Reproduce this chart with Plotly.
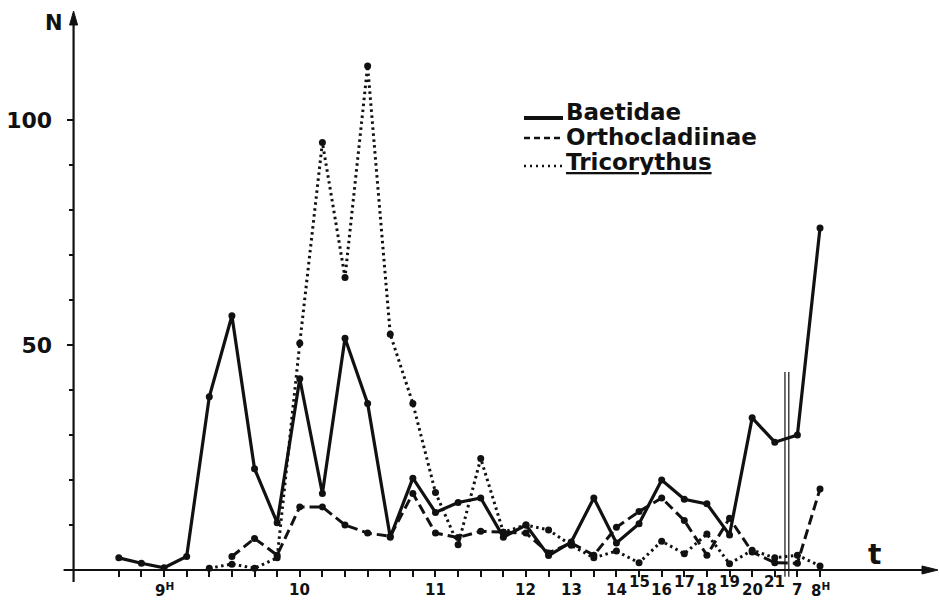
import plotly.graph_objects as go

# ---------------- data ----------------
# x positions are sampling-slot indices (9H = slot 0); time labels mapped below
baet_x = list(range(-2, 30))
baet_y = [2.7, 1.5, 0.5, 3, 38.5, 56.5, 22.5, 10.5, 42.5, 17, 51.5, 37, 7.3, 20.4, 12.8, 15,
          16, 7.3, 10, 3.2, 6.2, 16, 6, 10.3, 20, 15.7, 14.7, 7.8, 33.8, 28.4, 30, 76]

orth_x = list(range(3, 30))
orth_y = [3, 7, 3.3, 14, 14, 10, 8.2, 7.5, 17, 8.2, 7.2, 8.6, 8.4, 8.2, 3.8, 6, 3.3,
          9.5, 13, 16, 11, 3.3, 11.5, 4, 1.6, 1.5, 18]

tric_x = list(range(2, 30))
tric_y = [0.4, 1.3, 0.4, 2.7, 50.4, 95, 65, 112, 52.4, 37, 17.2, 5.6, 24.8, 8.4, 10, 8.9,
          5.5, 2.7, 4.2, 1.6, 6.4, 3.6, 8, 1.4, 4.4, 2.7, 3.3, 0.9]

series_names = ["Baetidae", "Orthocladiinae", "<u>Tricorythus</u>"]

# time labels on the x axis
tick_slots = list(range(-2, 30))
label_slots = [0, 6, 12, 16, 18, 20, 21, 22, 23, 24, 25, 26, 27, 28, 29]
label_texts = ["9<sup>H</sup>", "10", "11", "12", "13", "14", "15", "16", "17", "18",
               "19", "20", "21", "7", "8<sup>H</sup>"]
label_raised = [False, False, False, False, False, False, True, False, True, False,
                True, False, True, False, False]
night_break = 27.45   # overnight interruption between 21h and 7h
break_top = 44

y_tickvals = [50, 100]
y_ticktext = ["50", "100"]
y_minor_vals = [10, 20, 30, 40, 60, 70, 80, 90]

# ---------------- layout geometry ----------------
W, H = 939, 602
ML, MR, MT, MB = 60, 0, 20, 23
XMIN, XMAX = -4.6, 34.26
YMIN, YMAX = -2, 122.2
X_AXIS_AT = -4  # position of the y axis on x

PW = W - ML - MR
PH = H - MT - MB

def px(p):
    return (p - ML) / PW

def py(q):
    return (H - MB - q) / PH

def xd(v):  # data x -> paper
    return (v - XMIN) / (XMAX - XMIN)

def yd(v):  # data y -> paper
    return (v - YMIN) / (YMAX - YMIN)

FONT = "DejaVu Sans"
BLACK = "#111111"

fig = go.Figure()

fig.add_trace(go.Scatter(x=baet_x, y=baet_y, mode="lines+markers", cliponaxis=False,
                         line=dict(color=BLACK, width=3.2),
                         marker=dict(color=BLACK, size=7), showlegend=False))
fig.add_trace(go.Scatter(x=orth_x, y=orth_y, mode="lines+markers", cliponaxis=False,
                         line=dict(color=BLACK, width=3, dash="10px,5px"),
                         marker=dict(color=BLACK, size=7), showlegend=False))
fig.add_trace(go.Scatter(x=tric_x, y=tric_y, mode="lines+markers", cliponaxis=False,
                         line=dict(color=BLACK, width=3, dash="2.5px,3.5px"),
                         marker=dict(color=BLACK, size=7), showlegend=False))

# axes lines and arrowheads as shapes (paper coordinates)
yax_px = ML + xd(X_AXIS_AT) * PW          # pixel x of the y axis
xax_py = MT + (1 - yd(0)) * PH            # pixel y of the x axis
fig.add_shape(type="line", xref="paper", yref="paper", x0=px(yax_px), x1=px(yax_px),
              y0=py(xax_py + 12), y1=py(20), line=dict(color=BLACK, width=2.2))
fig.add_shape(type="line", xref="paper", yref="paper", x0=px(yax_px - 10), x1=px(928),
              y0=py(xax_py), y1=py(xax_py), line=dict(color=BLACK, width=2.2))
fig.add_shape(type="path", xref="paper", yref="paper", fillcolor=BLACK,
              line=dict(color=BLACK, width=1),
              path=(f"M {px(yax_px)} {py(11)} L {px(yax_px - 4)} {py(25)} "
                    f"L {px(yax_px + 4)} {py(25)} Z"))
fig.add_shape(type="path", xref="paper", yref="paper", fillcolor=BLACK,
              line=dict(color=BLACK, width=1),
              path=(f"M {px(938)} {py(xax_py)} L {px(922)} {py(xax_py - 4)} "
                    f"L {px(922)} {py(xax_py + 4)} Z"))

# overnight break double line
for dx in (0, 0.17):
    fig.add_shape(type="line", xref="x", yref="y", x0=night_break + dx, x1=night_break + dx,
                  y0=-1.5, y1=break_top, line=dict(color=BLACK, width=1.2))

# x labels
for s, t, r in zip(label_slots, label_texts, label_raised):
    fig.add_annotation(x=xd(s), y=py(582 if r else 590), xref="paper", yref="paper", text=t,
                       showarrow=False,
                       font=dict(family=FONT, size=15, color=BLACK, weight="bold"),
                       xanchor="center", yanchor="middle")

# axis titles
fig.add_annotation(x=px(54), y=py(23), xref="paper", yref="paper", text="N", showarrow=False,
                   xanchor="center", yanchor="middle",
                   font=dict(family=FONT, size=21, color=BLACK, weight="bold"))
fig.add_annotation(x=px(874), y=py(554), xref="paper", yref="paper", text="t", showarrow=False,
                   xanchor="center", yanchor="middle",
                   font=dict(family=FONT, size=28, color=BLACK, weight="bold"))

# legend
leg_y = [112, 137, 162]
leg_line_y = [118, 138, 166]
leg_dash = ["solid", "6px,4px", "2px,4px"]
leg_w = [4, 2.5, 2.5]
for name, yy, ly, d, w in zip(series_names, leg_y, leg_line_y, leg_dash, leg_w):
    fig.add_shape(type="line", xref="paper", yref="paper", x0=px(524), x1=px(563),
                  y0=py(ly), y1=py(ly), line=dict(color=BLACK, width=w, dash=d))
    fig.add_annotation(x=px(564), y=py(yy), xref="paper", yref="paper", text=name,
                       showarrow=False, xanchor="left", yanchor="middle",
                       font=dict(family=FONT, size=23, color=BLACK, weight="bold"))

fig.update_layout(
    width=W, height=H,
    margin=dict(l=ML, r=MR, t=MT, b=MB),
    paper_bgcolor="white", plot_bgcolor="white",
    xaxis=dict(range=[XMIN, XMAX], showgrid=False, zeroline=False, showline=False,
               tickmode="array", tickvals=tick_slots, ticks="outside", ticklen=6,
               tickwidth=2, tickcolor=BLACK, showticklabels=False,
               anchor="free", position=yd(0)),
    yaxis=dict(range=[YMIN, YMAX], showgrid=False, zeroline=False, showline=False,
               tickmode="array", tickvals=y_tickvals, ticktext=y_ticktext,
               ticks="outside", ticklen=7, tickwidth=2.2, tickcolor=BLACK,
               minor=dict(tickmode="array", tickvals=y_minor_vals, ticks="outside",
                          ticklen=5, tickwidth=2, tickcolor=BLACK, showgrid=False),
               ticklabelstandoff=10,
               tickfont=dict(family=FONT, size=22, color=BLACK, weight="bold"),
               anchor="free", position=xd(X_AXIS_AT)),
    showlegend=False,
)

fig.write_html("out.html")
